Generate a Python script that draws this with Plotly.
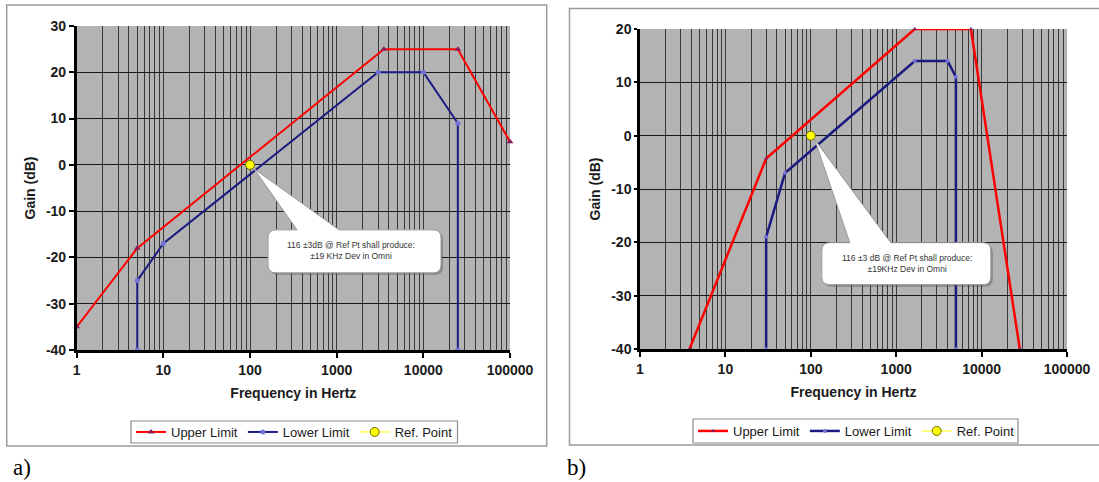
import numpy as np
import plotly.graph_objects as go

# ---------------- data ----------------
# chart a)
upper_a_freq = [1, 5, 3500, 25000, 100000]
upper_a_gain = [-35, -18, 25, 25, 5]
lower_a_freq = [5, 5, 10, 3000, 10000, 25000, 25000]
lower_a_gain = [-40, -25, -17, 20, 20, 9, -40]
ref_a_freq = [100]
ref_a_gain = [0]

# chart b)
upper_b_freq = [3.8, 30, 1650, 7500, 28000]
upper_b_gain = [-40, -4.3, 20, 20, -40]
lower_b_freq = [30, 30, 50, 1650, 4000, 5000, 5000]
lower_b_gain = [-40, -19, -7, 14, 14, 11, -40]
ref_b_freq = [100]
ref_b_gain = [0]

x_tick_vals = [1, 10, 100, 1000, 10000, 100000]
x_tick_text = ["1", "10", "100", "1000", "10000", "100000"]
y_ticks_a = [-40, -30, -20, -10, 0, 10, 20, 30]
y_ticks_b = [-40, -30, -20, -10, 0, 10, 20]

callout_a = "116 ±3dB @ Ref Pt shall produce:<br>±19 KHz Dev in Omni"
callout_b = "116 ±3 dB @ Ref Pt shall produce:<br>±19KHz Dev in Omni"

# ---------------- styling ----------------
W, H = 1099, 482
FONT = "Liberation Sans"
RED = "#FF0000"
NAVY = "#1a1a80"
GRID_V = "#383838"
GRID_H = "#1a1a1a"
PLOT_BG = "#b3b3b3"

minor_vals = [d * 10 ** k for k in range(5) for d in range(2, 10)]


def px_x(p):
    return p / W


def px_y(p):
    return 1 - p / H


fig = go.Figure()

# chart a traces
fig.add_trace(go.Scatter(x=upper_a_freq, y=upper_a_gain, mode="lines+markers", name="Upper Limit",
                         line=dict(color=RED, width=2),
                         marker=dict(symbol="triangle-up", size=6, color="#8b1a5a"),
                         xaxis="x", yaxis="y", legend="legend", cliponaxis=False))
fig.add_trace(go.Scatter(x=lower_a_freq, y=lower_a_gain, mode="lines+markers", name="Lower Limit",
                         line=dict(color=NAVY, width=2),
                         marker=dict(symbol="circle", size=5, color="#7373d6"),
                         xaxis="x", yaxis="y", legend="legend", cliponaxis=False))
fig.add_trace(go.Scatter(x=ref_a_freq, y=ref_a_gain, mode="lines+markers", name="Ref. Point",
                         line=dict(color="#ffff00", width=1),
                         marker=dict(symbol="circle", size=9, color="#ffff00",
                                     line=dict(color="#6b6b00", width=1)),
                         xaxis="x", yaxis="y", legend="legend", cliponaxis=False))

# chart b traces
fig.add_trace(go.Scatter(x=upper_b_freq, y=upper_b_gain, mode="lines+markers", name="Upper Limit",
                         line=dict(color=RED, width=2.5),
                         marker=dict(symbol="triangle-up", size=4, color="#8b1a5a"),
                         xaxis="x2", yaxis="y2", legend="legend2", cliponaxis=False))
fig.add_trace(go.Scatter(x=lower_b_freq, y=lower_b_gain, mode="lines+markers", name="Lower Limit",
                         line=dict(color=NAVY, width=2.5),
                         marker=dict(symbol="circle", size=4, color="#7373d6"),
                         xaxis="x2", yaxis="y2", legend="legend2", cliponaxis=False))
fig.add_trace(go.Scatter(x=ref_b_freq, y=ref_b_gain, mode="lines+markers", name="Ref. Point",
                         line=dict(color="#ffff00", width=1),
                         marker=dict(symbol="circle", size=9, color="#ffff00",
                                     line=dict(color="#6b6b00", width=1)),
                         xaxis="x2", yaxis="y2", legend="legend2", cliponaxis=False))

tickfont = dict(family=FONT, size=14, color="#1a1a1a", weight="bold")
titlefont = dict(family=FONT, size=14, color="#1a1a1a", weight="bold")


def xaxis_cfg(domain, anchor):
    return dict(type="log", domain=domain, anchor=anchor, range=[0, 5], automargin=False,
                tickmode="array", tickvals=x_tick_vals, ticktext=x_tick_text,
                ticks="outside", ticklen=5, tickwidth=2, tickcolor="black",
                showline=True, linecolor="black", linewidth=3,
                showgrid=True, gridcolor=GRID_V, gridwidth=1.3,
                minor=dict(tickmode="array", tickvals=minor_vals, showgrid=True,
                           gridcolor=GRID_V, gridwidth=1.3, ticks=""),
                tickfont=tickfont,
                title=dict(text="Frequency in Hertz", font=titlefont, standoff=12),
                zeroline=False, fixedrange=True)


def yaxis_cfg(domain, anchor, rng, vals, ticklen):
    return dict(domain=domain, anchor=anchor, range=rng, automargin=False,
                tickmode="array", tickvals=vals, ticktext=[str(v) for v in vals],
                ticks="outside", ticklen=ticklen, tickwidth=2, tickcolor="black",
                showline=True, linecolor="black", linewidth=2.5,
                showgrid=True, gridcolor=GRID_H, gridwidth=1,
                tickfont=tickfont,
                title=dict(text="Gain (dB)", font=titlefont, standoff=8),
                zeroline=False, fixedrange=True)


legend_common = dict(orientation="h", xanchor="left", yanchor="top",
                     bordercolor="rgba(0,0,0,0)", borderwidth=0, bgcolor="rgba(0,0,0,0)",
                     font=dict(family=FONT, size=13, color="#1a1a1a"), itemwidth=30)

fig.update_layout(
    width=W, height=H,
    margin=dict(l=0, r=0, t=0, b=0, autoexpand=False),
    paper_bgcolor="white", plot_bgcolor=PLOT_BG,
    font=dict(family=FONT, color="#1a1a1a"),
    xaxis=xaxis_cfg([px_x(76.7), px_x(510)], "y"),
    yaxis=yaxis_cfg([px_y(350), px_y(26)], "x", [-40, 30], y_ticks_a, 5),
    xaxis2=xaxis_cfg([px_x(640), px_x(1067)], "y2"),
    yaxis2=yaxis_cfg([px_y(349), px_y(29)], "x2", [-40, 20], y_ticks_b, 3),
    legend=dict(legend_common, x=px_x(131), y=px_y(417)),
    legend2=dict(legend_common, x=px_x(693), y=px_y(416)),
    showlegend=True,
)


def callout_path(bx0, bx1, top, bottom, base0, base1, tip, r=8):
    tx, ty = tip
    return (f"M {tx},{ty} L {base1},{top} L {bx1 - r},{top} Q {bx1},{top} {bx1},{top - r} "
            f"L {bx1},{bottom + r} Q {bx1},{bottom} {bx1 - r},{bottom} "
            f"L {bx0 + r},{bottom} Q {bx0},{bottom} {bx0},{bottom + r} "
            f"L {bx0},{top - r} Q {bx0},{top} {bx0 + r},{top} L {base0},{top} Z")


shapes = []
annotations = []

# outer frames of the two charts
shapes.append(dict(type="rect", xref="paper", yref="paper", x0=px_x(6.7), x1=px_x(546.7),
                   y0=px_y(446), y1=px_y(5), line=dict(color="#9a9a9a", width=1.5), layer="below"))
shapes.append(dict(type="rect", xref="paper", yref="paper", x0=px_x(569.5), x1=px_x(1101),
                   y0=px_y(445), y1=px_y(8.5), line=dict(color="#9a9a9a", width=1.5), layer="below"))
# legend frames
shapes.append(dict(type="rect", xref="paper", yref="paper", x0=px_x(131), x1=px_x(457.5),
                   y0=px_y(443), y1=px_y(421), line=dict(color="#8c8c8c", width=1.2),
                   fillcolor="white", layer="below"))
shapes.append(dict(type="rect", xref="paper", yref="paper", x0=px_x(693), x1=px_x(1018),
                   y0=px_y(443), y1=px_y(419), line=dict(color="#8c8c8c", width=1.2),
                   fillcolor="white", layer="below"))

for xr, yr, rf, rg, geo, txt, toff in [
    ("x", "y", ref_a_freq[0], ref_a_gain[0], (18, 191, -65, -108, 47, 89, (4, -4)), callout_a, (101, -86)),
    ("x2", "y2", ref_b_freq[0], ref_b_gain[0], (11, 180, -107, -149, 39, 80, (4, -4)), callout_b, (96, -128)),
]:
    p = callout_path(*geo)
    ps = callout_path(geo[0] + 2, geo[1] + 2, geo[2] - 2, geo[3] - 2, geo[4] + 2, geo[5] + 2,
                      (geo[6][0] + 2, geo[6][1] - 2))
    shapes.append(dict(type="path", xref=xr, yref=yr, xsizemode="pixel", ysizemode="pixel",
                       xanchor=rf, yanchor=rg, path=ps, fillcolor="rgba(60,60,60,0.35)",
                       line=dict(width=0), layer="above"))
    shapes.append(dict(type="path", xref=xr, yref=yr, xsizemode="pixel", ysizemode="pixel",
                       xanchor=rf, yanchor=rg, path=p, fillcolor="white",
                       line=dict(color="#9a9a9a", width=1), layer="above"))
    annotations.append(dict(x=np.log10(rf), y=rg, xref=xr, yref=yr, showarrow=False, text=txt,
                            xshift=toff[0], yshift=toff[1], align="center",
                            font=dict(family=FONT, size=8.5, color="#333333")))

annotations.append(dict(x=px_x(11), y=px_y(467), xref="paper", yref="paper", xanchor="left",
                        yanchor="middle", showarrow=False, text="a)",
                        font=dict(family="Liberation Serif", size=23, color="black")))
annotations.append(dict(x=px_x(565), y=px_y(467), xref="paper", yref="paper", xanchor="left",
                        yanchor="middle", showarrow=False, text="b)",
                        font=dict(family="Liberation Serif", size=23, color="black")))

fig.update_layout(shapes=shapes, annotations=annotations)

fig.write_html("out.html", config={"displayModeBar": False},
               post_script="document.body.style.margin='0px';document.body.style.overflow='hidden';")
